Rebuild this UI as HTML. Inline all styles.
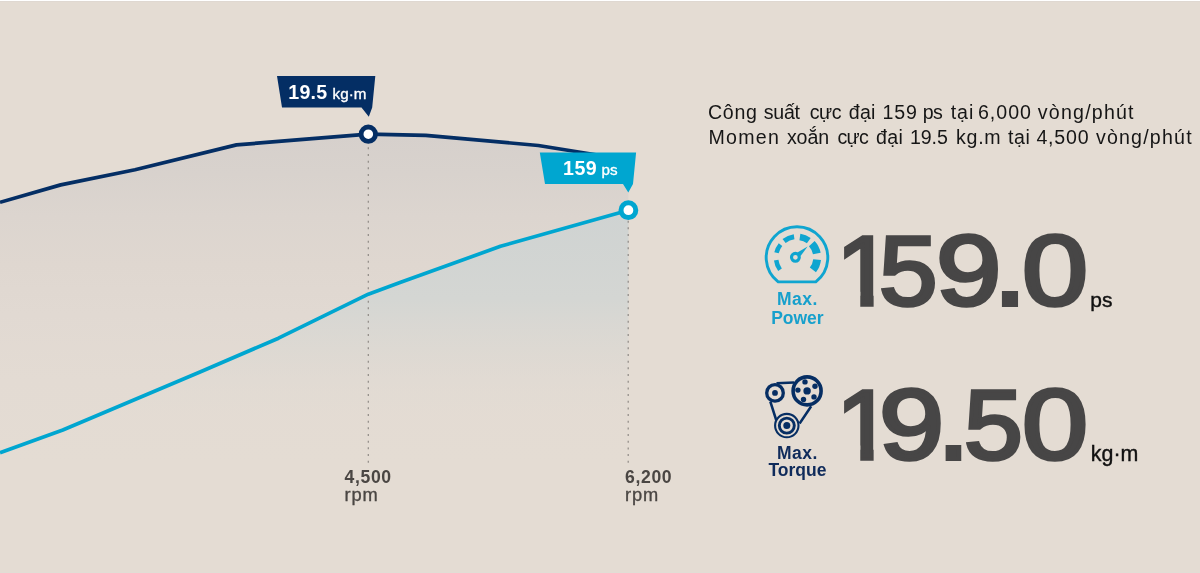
<!DOCTYPE html>
<html lang="vi">
<head>
<meta charset="utf-8">
<title>Engine performance</title>
<style>
html,body{margin:0;padding:0;background:#e4dcd3;}
body{width:1200px;height:573px;overflow:hidden;position:relative;font-family:"Liberation Sans",sans-serif;}
svg{position:absolute;left:0;top:0;display:block;}
text{font-family:"Liberation Sans",sans-serif;}

.big{position:absolute;left:0;top:0;width:0;height:0;font-family:"Liberation Sans",sans-serif;font-weight:400;font-size:98.3px;line-height:98.3px;color:#474646;-webkit-text-stroke:3.6px #474646;}
.big span{position:absolute;top:0;display:block;white-space:pre;transform-origin:0 83.15px;}
.big .one{clip-path:polygon(0 0,35.5px 0,35.5px 100px,22.9px 100px,22.9px 70px,0 70px);}
#b1{top:221.7px;}
#b2{top:375.5px;}
</style>
</head>
<body>
<svg width="1200" height="573" viewBox="0 0 1200 573">
  <defs>
    <linearGradient id="gTorque" x1="0" y1="134" x2="0" y2="462" gradientUnits="userSpaceOnUse">
      <stop offset="0" stop-color="#d6d0cc"/>
      <stop offset="0.12" stop-color="#d8d2cd"/>
      <stop offset="0.25" stop-color="#dcd5cf"/>
      <stop offset="0.4" stop-color="#dfd7d0"/>
      <stop offset="0.55" stop-color="#e1d9d2"/>
      <stop offset="0.75" stop-color="#e3dbd3"/>
      <stop offset="1" stop-color="#e4dcd3"/>
    </linearGradient>
    <linearGradient id="gPower" x1="0" y1="210" x2="0" y2="432" gradientUnits="userSpaceOnUse">
      <stop offset="0" stop-color="#cfd3d2"/>
      <stop offset="0.4" stop-color="#d4d6d3"/>
      <stop offset="1" stop-color="#e4dcd3" stop-opacity="0"/>
    </linearGradient>
  </defs>
  <rect x="0" y="0" width="1200" height="573" fill="#e4dcd3"/>
  <rect x="0" y="0" width="1200" height="1" fill="#ffffff"/>
  <rect x="0" y="1" width="1200" height="1" fill="#dfd8d1"/>
  <rect x="0" y="572" width="1200" height="1" fill="#e1ddd5"/>

  <!-- torque area -->
  <path d="M0,202.3 L60.7,184.9 L135,169.7 L236.5,144.9 L300,139.6 L368.3,134.2 L425.8,135.3 L538.3,145.5 L628.4,160 L628.4,462 L0,462 Z" fill="url(#gTorque)"/>
  <!-- power area -->
  <path d="M0,452.7 L62.8,430 L200,372 L278.5,338.2 L368.3,294.2 L400,282.5 L500.5,246.3 L628.4,210.2 L628.4,462 L0,462 Z" fill="url(#gPower)"/>

  <!-- dotted guides -->
  <line x1="368.3" y1="147.3" x2="368.3" y2="463" stroke="#8f8a86" stroke-width="1.2" stroke-dasharray="2 4.667"/>
  <line x1="628.2" y1="220.7" x2="628.2" y2="463" stroke="#8f8a86" stroke-width="1.2" stroke-dasharray="2 4.667"/>

  <!-- torque line -->
  <path d="M0,202.3 L60.7,184.9 L135,169.7 L236.5,144.9 L300,139.6 L368.3,134.2 L425.8,135.3 L538.3,145.5 L628.4,160" fill="none" stroke="#042e64" stroke-width="3.7" stroke-linejoin="round"/>
  <!-- power line -->
  <path d="M0,452.7 L62.8,430 L200,372 L278.5,338.2 L368.3,294.2 L400,282.5 L500.5,246.3 L628.4,210.2" fill="none" stroke="#00a6d0" stroke-width="3.7" stroke-linejoin="round"/>

  <!-- markers -->
  <circle cx="368.3" cy="134.2" r="7.2" fill="#ffffff" stroke="#042e64" stroke-width="4.8"/>
  <circle cx="628.4" cy="210.2" r="7.4" fill="#ffffff" stroke="#00a6d0" stroke-width="5"/>

  <!-- flags -->
  <path d="M277,76 L375.3,76 L372.2,107.5 L368.8,116.8 L361.5,107.5 L282,107.5 Z" fill="#042e64"/>
  <text x="288.3" y="98.7" font-size="19.6" font-weight="700" fill="#ffffff" letter-spacing="0.25">19.5</text>
  <text x="332.6" y="98.7" font-size="15.2" fill="#ffffff" stroke="#ffffff" stroke-width="0.35">kg·m</text>

  <path d="M539.8,152.6 L636.1,152.6 L633,184 L628.3,192.5 L623,184 L545,184 Z" fill="#00a6d0"/>
  <text x="563" y="174.6" font-size="19.6" font-weight="700" fill="#ffffff" letter-spacing="0.5">159</text>
  <text x="601.6" y="174.6" font-size="15.2" fill="#ffffff" stroke="#ffffff" stroke-width="0.35">ps</text>

  <!-- axis labels -->
  <text x="344.5" y="483.4" font-size="17.6" font-weight="700" fill="#4a4643" letter-spacing="0.65">4,500</text>
  <text x="344.5" y="501.4" font-size="18.3" fill="#4a4643" stroke="#4a4643" stroke-width="0.35" letter-spacing="0.9">rpm</text>
  <text x="625" y="483.4" font-size="17.6" font-weight="700" fill="#4a4643" letter-spacing="0.65">6,200</text>
  <text x="625" y="501.4" font-size="18.3" fill="#4a4643" stroke="#4a4643" stroke-width="0.35" letter-spacing="0.9">rpm</text>

  <!-- description -->
  <text y="118.6" font-size="19.6" fill="#161616"><tspan x="708.0" letter-spacing="0.69">Công </tspan><tspan x="763.8" letter-spacing="-0.26">suất </tspan><tspan x="809.8" letter-spacing="-0.51">cực </tspan><tspan x="848.8" letter-spacing="0.20">đại </tspan><tspan x="882.5" letter-spacing="0.85">159 </tspan><tspan x="922.8" letter-spacing="-0.70">ps </tspan><tspan x="950.7" letter-spacing="0.98">tại </tspan><tspan x="978.0" letter-spacing="0.97">6,000 </tspan><tspan x="1037.8" letter-spacing="1.21">vòng/phút</tspan></text>
  <text y="143.7" font-size="19.6" fill="#161616"><tspan x="708.5" letter-spacing="1.27">Momen </tspan><tspan x="786.9" letter-spacing="-0.10">xoắn </tspan><tspan x="837.5" letter-spacing="-0.71">cực </tspan><tspan x="876.0" letter-spacing="0.40">đại </tspan><tspan x="910.0" letter-spacing="-0.11">19.5 </tspan><tspan x="956.0" letter-spacing="0.72">kg.m </tspan><tspan x="1008.0" letter-spacing="0.58">tại </tspan><tspan x="1036.4" letter-spacing="0.82">4,500 </tspan><tspan x="1095.9" letter-spacing="1.21">vòng/phút</tspan></text>


  <!-- gauge icon -->
  <g fill="none" stroke="#0fa5d0" stroke-linecap="butt">
    <path d="M778.2,281.9 A30.8,30.8 0 1 1 815.8,281.9 Z" stroke-width="2.9" stroke-linejoin="round"/>
    <path d="M780.0,269.8 A21,21 0 0 1 776.2,260.1" stroke-width="4.5"/>
    <path d="M776.5,252.8 A21,21 0 0 1 780.5,244.6" stroke-width="4.5"/>
    <path d="M784.1,241.0 A21,21 0 0 1 794.1,236.7" stroke-width="5"/>
    <path d="M799.9,237.1 A20.6,20.6 0 0 1 808.8,240.6" stroke-width="6.6"/>
    <path d="M811.8,243.7 A20.2,20.2 0 0 1 816.8,253.6" stroke-width="7.8"/>
    <path d="M817.1,259.6 A20.2,20.2 0 0 1 812.9,269.9" stroke-width="7.8"/>
    <circle cx="795.4" cy="257.3" r="3.9" stroke-width="3.1"/>
  </g>
  <path d="M797.4,252.4 L807.6,246.4 L800.6,256 Z" fill="#0fa5d0"/>

  <!-- belt / pulley icon -->
  <g fill="none" stroke="#062e63">
    <path d="M776.5,383.2 L794,382.5 M770.3,401.5 L776.2,420 M811.2,406.2 L799.6,423.5" stroke-width="2.5"/>
    <circle cx="775" cy="392.9" r="8.3" stroke-width="3.3"/>
    <circle cx="807.1" cy="390.9" r="14" stroke-width="3.6"/>
    <circle cx="786.8" cy="425.6" r="11.7" stroke-width="2.1"/>
    <circle cx="786.8" cy="425.6" r="7.5" stroke-width="2.9"/>
  </g>
  <g fill="#062e63">
    <circle cx="775" cy="392.9" r="2.9"/>
    <circle cx="807.1" cy="390.9" r="3.7"/>
    <circle cx="786.8" cy="425.6" r="3.5"/>
    <circle cx="805.0" cy="381.9" r="2.7"/>
    <circle cx="815.0" cy="386.2" r="2.7"/>
    <circle cx="814.0" cy="396.9" r="2.7"/>
    <circle cx="803.5" cy="399.4" r="2.7"/>
    <circle cx="797.9" cy="390.1" r="2.7"/>
  </g>

  <!-- Max power -->
  <text x="797.4" y="304.9" font-size="17.5" font-weight="700" fill="#17a0cc" text-anchor="middle" letter-spacing="0.5">Max.</text>
  <text x="797.4" y="323.8" font-size="17.5" font-weight="700" fill="#17a0cc" text-anchor="middle">Power</text>
  <text x="1090.3" y="306.6" font-size="21" fill="#111111" stroke="#111111" stroke-width="0.4">ps</text>

  <!-- Max torque -->
  <text x="797.4" y="458.6" font-size="17.5" font-weight="700" fill="#0f2b5b" text-anchor="middle" letter-spacing="0.5">Max.</text>
  <text x="797.4" y="476.4" font-size="17.5" font-weight="700" fill="#0f2b5b" text-anchor="middle">Torque</text>
  <text x="1090.8" y="460.6" font-size="21.4" fill="#111111" stroke="#111111" stroke-width="0.4">kg·m</text>
</svg>

<div class="big" id="b1"><span class="one" style="left:836.3px;transform:scale(1.060,1)">1</span><span style="left:878.7px;transform:scale(1.070,1)">5</span><span style="left:935.5px;transform:scale(1.196,1.015)">9</span><span style="left:992.6px;transform:scale(1.243,1.13)">.</span><span style="left:1021.7px;transform:scale(1.208,1.02)">0</span></div>
<div class="big" id="b2"><span class="one" style="left:836.3px;transform:scale(1.060,1)">1</span><span style="left:879.4px;transform:scale(1.191,1.015)">9</span><span style="left:936.6px;transform:scale(1.204,1.13)">.</span><span style="left:963.5px;transform:scale(1.076,1)">5</span><span style="left:1021.7px;transform:scale(1.208,1.02)">0</span></div>
</body>
</html>
